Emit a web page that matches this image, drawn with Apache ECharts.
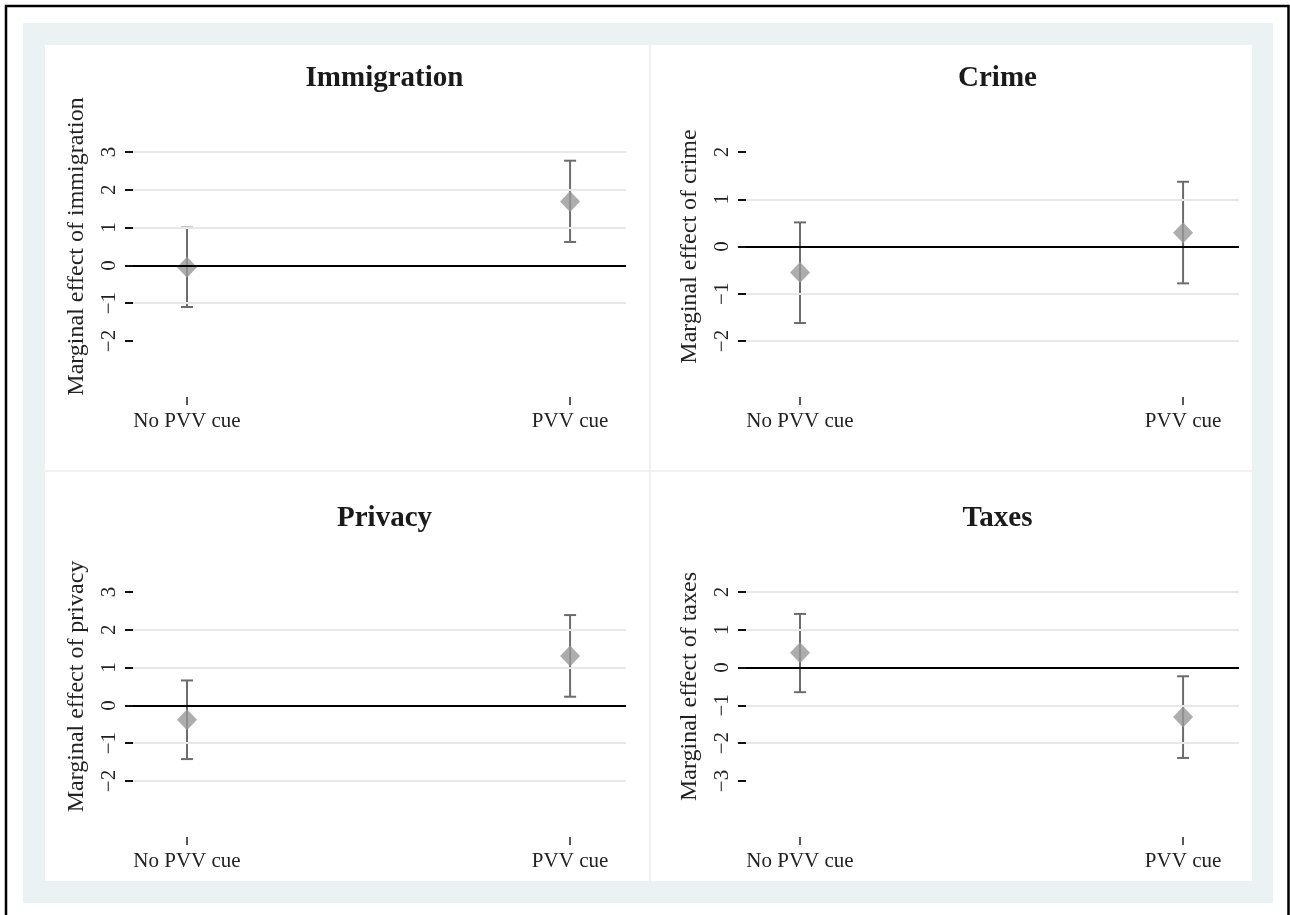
<!DOCTYPE html>
<html>
<head>
<meta charset="utf-8">
<script src="https://cdn.jsdelivr.net/npm/echarts@6/dist/echarts.min.js"></script>
<style>
    html, body {margin: 0; padding: 0; background: #fff;}
    #main {width: 1290px; height: 915px;}
</style>
</head>
<body>
<div id="main"></div>
<script>
// categories and panels
const categories = ['No PVV cue', 'PVV cue'];
const panelTitles = ['Immigration', 'Crime', 'Privacy', 'Taxes'];
const yNames = ['Marginal effect of immigration', 'Marginal effect of crime',
    'Marginal effect of privacy', 'Marginal effect of taxes'];

// point estimates and 95% CI, per panel: [No PVV cue, PVV cue]
const est = [[-0.05, 1.69], [-0.55, 0.29], [-0.38, 1.31], [0.39, -1.31]];
const lo = [[-1.10, 0.62], [-1.62, -0.78], [-1.42, 0.23], [-0.65, -2.39]];
const hi = [[1.00, 2.77], [0.51, 1.37], [0.66, 2.39], [1.42, -0.23]];

// y axis ranges and which ticks get a grid line
const yMin = [-2, -2, -2, -3];
const yMax = [3, 2, 3, 2];
const gridVals = [[3, 2, 1, -1], [1, -1, -2], [2, 1, -1, -2], [2, 1, -1, -2]];

const FONT = '"Liberation Serif", "Times New Roman", serif';
const gridLeft = [133, 746, 133, 746];
const gridTop = [152, 152, 592, 592];
const gridW = 493, gridH = 189;

function renderBar(params, api) {
    const x = api.value(0);
    const pLo = api.coord([x, api.value(1)]);
    const pHi = api.coord([x, api.value(2)]);
    const st = {stroke: '#6c6c6c', lineWidth: 2};
    const cap = 6;
    return {
        type: 'group', children: [
            {type: 'line', shape: {x1: pLo[0], y1: pLo[1], x2: pHi[0], y2: pHi[1]}, style: st},
            {type: 'line', shape: {x1: pLo[0] - cap, y1: pLo[1], x2: pLo[0] + cap, y2: pLo[1]}, style: st},
            {type: 'line', shape: {x1: pHi[0] - cap, y1: pHi[1], x2: pHi[0] + cap, y2: pHi[1]}, style: st},
        ]
    };
}

const chart = echarts.init(document.getElementById('main'));

let grids = [], xAxes = [], yAxes = [], titles = [], series = [];
panelTitles.forEach((t, i) => {
    grids.push({left: gridLeft[i], top: gridTop[i], width: gridW, height: gridH});
    titles.push({
        text: t, left: gridLeft[i] + gridW / 2, top: gridTop[i] - 93, textAlign: 'center',
        textStyle: {fontFamily: FONT, fontSize: 29, fontWeight: 'bold', color: '#1a1a1a'}
    });
    xAxes.push({
        type: 'value', gridIndex: i, min: -0.141, max: 1.146, offset: 56,
        axisLine: {show: false, onZero: false},
        axisTick: {show: true, length: 8, customValues: [0, 1], lineStyle: {color: '#222', width: 1.5}},
        axisLabel: {
            customValues: [0, 1], margin: 14, formatter: v => categories[Math.round(v)],
            fontFamily: FONT, fontSize: 21, color: '#222'
        },
        splitLine: {show: false}
    });
    yAxes.push({
        type: 'value', gridIndex: i, min: yMin[i], max: yMax[i], interval: 1,
        name: yNames[i], nameLocation: 'middle', nameGap: 44,
        nameTextStyle: {fontFamily: FONT, fontSize: 24, color: '#222'},
        axisLine: {show: false, onZero: false},
        axisTick: {show: true, length: 8, lineStyle: {color: '#111', width: 2}},
        axisLabel: {
            rotate: 90, margin: 13, fontFamily: FONT, fontSize: 21, color: '#222',
            formatter: v => (v < 0 ? '\u2212' + (-v) : '' + v)
        },
        splitLine: {show: false}
    });
    // grid lines and zero line
    series.push({
        type: 'line', xAxisIndex: i, yAxisIndex: i, data: [], z: 1, silent: true,
        markLine: {
            silent: true, symbol: 'none', animation: false, label: {show: false},
            lineStyle: {type: 'solid', color: '#e8e8e8', width: 2},
            data: gridVals[i].map(v => ({yAxis: v}))
                .concat([{yAxis: 0, lineStyle: {color: '#000', width: 2, type: 'solid'}}])
        }
    });
    series.push({
        type: 'custom', xAxisIndex: i, yAxisIndex: i, z: 2, silent: true,
        renderItem: renderBar,
        data: categories.map((c, k) => [k, lo[i][k], hi[i][k]])
    });
    series.push({
        type: 'scatter', xAxisIndex: i, yAxisIndex: i, z: 3, silent: true,
        symbol: 'diamond', symbolSize: [20, 21],
        itemStyle: {color: '#999999'},
        data: categories.map((c, k) => [k, est[i][k]])
    });
});

chart.setOption({
    animation: false,
    title: titles,
    graphic: [
        {type: 'rect', z: -10, shape: {x: 23, y: 23, width: 1250, height: 880}, style: {fill: '#eaf2f4'}},
        {type: 'rect', z: -9, shape: {x: 45, y: 45, width: 1207, height: 836}, style: {fill: '#fff'}},
        {type: 'line', z: -8, shape: {x1: 650, y1: 45, x2: 650, y2: 881}, style: {stroke: '#ececec', lineWidth: 1.5}},
        {type: 'line', z: -8, shape: {x1: 45, y1: 471, x2: 1252, y2: 471}, style: {stroke: '#ececec', lineWidth: 1.5}},
        {type: 'polyline', z: -7, shape: {points: [[6, 915], [6, 6], [1288.5, 6], [1288.5, 915]]},
            style: {stroke: '#000', lineWidth: 2.5, fill: null}}
    ],
    grid: grids,
    xAxis: xAxes,
    yAxis: yAxes,
    series: series
});
</script>
</body>
</html>
